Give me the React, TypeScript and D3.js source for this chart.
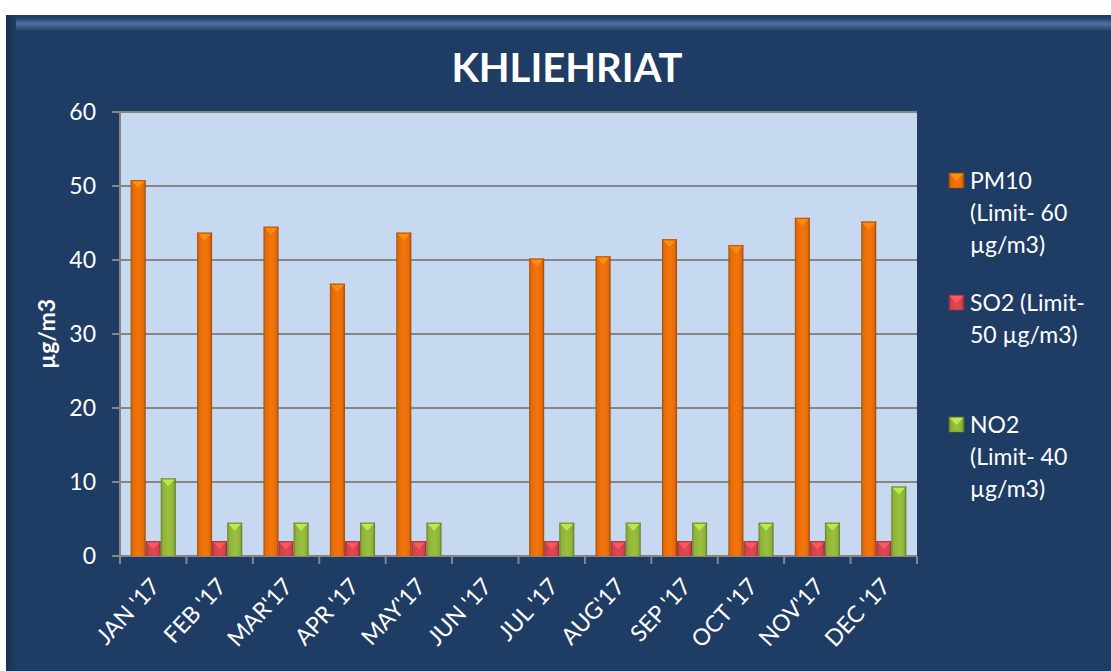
import React from 'react';
import * as d3 from 'd3';

const months = ["JAN '17", "FEB '17", "MAR'17", "APR '17", "MAY'17", "JUN '17", "JUL '17", "AUG'17", "SEP '17", "OCT '17", "NOV'17", "DEC '17"];
const pm10 = [50.8, 43.7, 44.5, 36.8, 43.7, null, 40.2, 40.5, 42.8, 42.0, 45.7, 45.2];
const so2 = [2, 2, 2, 2, 2, null, 2, 2, 2, 2, 2, 2];
const no2 = [10.5, 4.5, 4.5, 4.5, 4.5, null, 4.5, 4.5, 4.5, 4.5, 4.5, 9.4];
const yTicks = [0, 10, 20, 30, 40, 50, 60];

const seriesNames = ['PM10', 'SO2', 'NO2'];
const seriesColors = ['#E46C0A', '#D0434B', '#8FB33A'];
const legendLines = [
  ['PM10', '(Limit- 60', 'µg/m3)'],
  ['SO2 (Limit-', '50 µg/m3)'],
  ['NO2', '(Limit- 40', 'µg/m3)'],
];

const W = 1111;
const H = 671;
const plot = { left: 120, right: 917, top: 112, bottom: 556 };
const font = 'Lato, "Open Sans", sans-serif';

export default function App() {
  const x = d3.scaleBand().domain(months).range([plot.left, plot.right]).paddingInner(0.32).paddingOuter(0.16);
  const xs = d3.scaleBand().domain(seriesNames).range([0, x.bandwidth()]);
  const y = d3.scaleLinear().domain([0, 60]).range([plot.bottom, plot.top]);
  const band = (plot.right - plot.left) / months.length;
  const data = [pm10, so2, no2];

  const shade = (c, k) => d3.color(c).darker(k).formatHex();
  const light = (c, k) => d3.color(c).brighter(k).formatHex();

  return (
    <svg width={W} height={H} style={{ position: 'absolute', left: 0, top: 0 }} fontFamily={font}>
      <defs>
        {seriesColors.map((c, i) => (
          <linearGradient key={i} id={`g${i}`} x1="0" x2="1" y1="0" y2="0">
            <stop offset="0" stopColor={shade(c, 0.9)} />
            <stop offset="0.15" stopColor={c} />
            <stop offset="0.55" stopColor={light(c, 0.2)} />
            <stop offset="0.85" stopColor={c} />
            <stop offset="1" stopColor={shade(c, 1.2)} />
          </linearGradient>
        ))}
        <linearGradient id="bevelTop" x1="0" x2="0" y1="0" y2="1">
          <stop offset="0" stopColor="#1d3a60" />
          <stop offset="0.5" stopColor="#4f73a0" />
          <stop offset="1" stopColor="#1f3c64" />
        </linearGradient>
        <linearGradient id="bevelLeft" x1="0" x2="1" y1="0" y2="0">
          <stop offset="0" stopColor="#18304f" />
          <stop offset="1" stopColor="#1f3c64" />
        </linearGradient>
      </defs>

      <rect x={0} y={0} width={W} height={H} fill="#ffffff" />
      <rect x={6} y={15} width={W - 6} height={H - 15} fill="#1F3C64" />
      <rect x={6} y={17} width={W - 6} height={14} fill="url(#bevelTop)" />
      <rect x={6} y={15} width={10} height={H - 15} fill="url(#bevelLeft)" />

      <text x={567} y={82} textAnchor="middle" fill="#fff" fontSize={40} fontWeight="bold">KHLIEHRIAT</text>

      <rect x={plot.left} y={plot.top} width={plot.right - plot.left} height={plot.bottom - plot.top} fill="#C6D9F1" />

      {yTicks.map(t => (
        <g key={t}>
          <line x1={plot.left - 8} x2={plot.right} y1={y(t)} y2={y(t)} stroke="#868686" strokeWidth={2} />
          <text x={96} y={y(t) + 8} textAnchor="end" fill="#fff" fontSize={23}>{t}</text>
        </g>
      ))}
      <line x1={plot.left} x2={plot.left} y1={plot.top} y2={plot.bottom} stroke="#868686" strokeWidth={2} />

      {months.map((m, i) => {
        const tx = plot.left + band * (i + 1);
        return <line key={m} x1={tx} x2={tx} y1={plot.bottom} y2={plot.bottom + 8} stroke="#868686" strokeWidth={2} />;
      })}
      <line x1={plot.left} x2={plot.left} y1={plot.bottom} y2={plot.bottom + 8} stroke="#868686" strokeWidth={2} />

      {data.map((vals, si) =>
        vals.map((v, i) => {
          if (v == null) return null;
          const bx = x(months[i]) + xs(seriesNames[si]);
          const bw = xs.bandwidth();
          const by = y(v);
          const c = seriesColors[si];
          return (
            <g key={`${si}-${i}`}>
              <rect x={bx} y={by} width={bw} height={plot.bottom - by} fill={`url(#g${si})`} />
              <path d={`M${bx + 1},${by + 1}L${bx + bw - 1},${by + 1}L${bx + bw / 2},${by + 8}Z`} fill={light(c, 0.8)} opacity={0.9} />
              <line x1={bx} x2={bx + bw} y1={by + 0.5} y2={by + 0.5} stroke={shade(c, 0.6)} strokeWidth={1} />
            </g>
          );
        })
      )}

      {months.map(m => {
        const cx = x(m) + x.bandwidth() / 2 + 2;
        return (
          <text key={m} transform={`translate(${cx},${plot.bottom + 26}) rotate(-47)`} textAnchor="end" fill="#fff" fontSize={23} dy="0.35em">{m}</text>
        );
      })}

      <text transform={`translate(55,${(plot.top + plot.bottom) / 2}) rotate(-90)`} textAnchor="middle" fill="#fff" fontSize={23} fontWeight="bold">µg/m3</text>

      {legendLines.map((lines, li) => {
        const ly = [181, 303, 425][li];
        const c = seriesColors[li];
        return (
          <g key={li}>
            <rect x={949} y={ly - 8} width={15} height={15} fill={`url(#g${li})`} stroke={shade(c, 0.8)} strokeWidth={0.5} />
            <path d={`M950,${ly - 7}L963,${ly - 7}L956.5,${ly}Z`} fill={light(c, 0.8)} />
            {lines.map((t, k) => (
              <text key={k} x={970} y={ly + 8 + k * 32} fill="#fff" fontSize={23}>{t}</text>
            ))}
          </g>
        );
      })}
    </svg>
  );
}
